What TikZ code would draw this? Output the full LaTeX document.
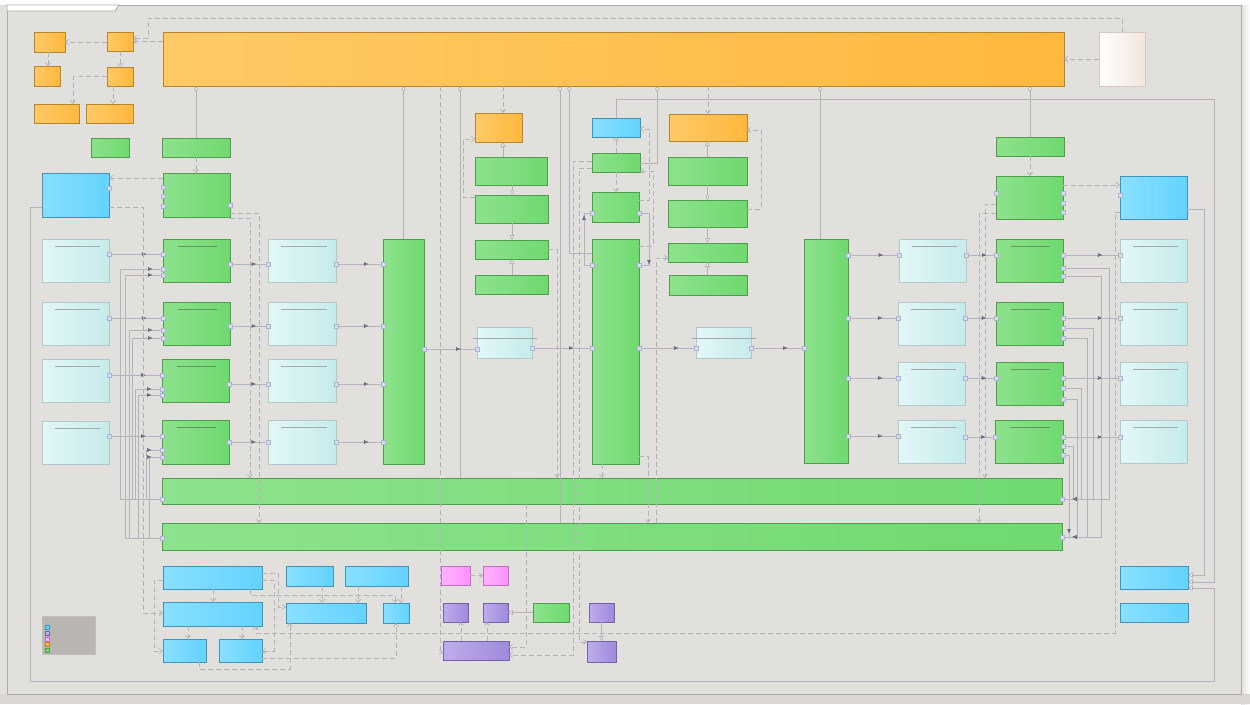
\documentclass[tikz,border=0pt]{standalone}
\usepackage{tikz}
\usetikzlibrary{arrows.meta,decorations.markings}
\definecolor{OuterBG}{HTML}{E2E1DE}
\definecolor{FrameBG}{HTML}{E1E0DD}
\definecolor{FrameLine}{HTML}{AEACA9}
\definecolor{BottomBG}{HTML}{D9D6D3}
\definecolor{OrangeL}{HTML}{FFC966}
\definecolor{OrangeR}{HTML}{FFB83E}
\definecolor{OrangeLine}{HTML}{B5862F}
\definecolor{GreenL}{HTML}{8DE28D}
\definecolor{GreenR}{HTML}{6FD96F}
\definecolor{GreenLine}{HTML}{4E9E4E}
\definecolor{GreenTitle}{HTML}{5E9A5E}
\definecolor{BlueL}{HTML}{8ADFFF}
\definecolor{BlueR}{HTML}{63D3FF}
\definecolor{BlueLine}{HTML}{3F93BC}
\definecolor{CyanL}{HTML}{E3F7F7}
\definecolor{CyanR}{HTML}{C6EBEB}
\definecolor{CyanLine}{HTML}{B3C8C9}
\definecolor{CyanTitle}{HTML}{A3ABAF}
\definecolor{PinkL}{HTML}{FFB4FF}
\definecolor{PinkR}{HTML}{FF90FF}
\definecolor{PinkLine}{HTML}{C26EC2}
\definecolor{PurpleL}{HTML}{BFADEA}
\definecolor{PurpleR}{HTML}{9F89DE}
\definecolor{PurpleLine}{HTML}{7563A8}
\definecolor{WhiteR}{HTML}{F3E5DC}
\definecolor{WhiteLine}{HTML}{D8C8C0}
\definecolor{Wire}{HTML}{B3B3BB}
\definecolor{ArrowDark}{HTML}{6C6C82}
\definecolor{PortFill}{HTML}{D9DCEF}
\definecolor{PortLine}{HTML}{AEB3D2}
\definecolor{LegendBG}{HTML}{B9B5B1}
\tikzset{
    port/.style={draw=PortLine, fill=PortFill, line width=0.4pt, minimum size=4.5pt, inner sep=0pt},
    wh/.style 2 args={minimum width=#1pt, minimum height=#2pt}
}

\begin{document}
\begin{tikzpicture}[x=1pt, y=-1pt,
        % Style chung cho các khối
        box/.style={anchor=north west, inner sep=0pt, outer sep=0pt, line width=0.9pt},
        orangebox/.style={box, draw=OrangeLine, left color=OrangeL, right color=OrangeR},
        greenbox/.style={box, draw=GreenLine, left color=GreenL, right color=GreenR},
        bluebox/.style={box, draw=BlueLine, left color=BlueL, right color=BlueR},
        cyanbox/.style={box, draw=CyanLine, left color=CyanL, right color=CyanR},
        pinkbox/.style={box, draw=PinkLine, left color=PinkL, right color=PinkR},
        purplebox/.style={box, draw=PurpleLine, left color=PurpleL, right color=PurpleR},
        whitebox/.style={box, draw=WhiteLine, left color=white, right color=WhiteR},
        % Khối có gạch tiêu đề
        greenrow/.style={greenbox, path picture={\draw[GreenTitle, line width=0.8pt]
            ([xshift=15pt,yshift=-7pt]path picture bounding box.north west) --
            ([xshift=-13pt,yshift=-7pt]path picture bounding box.north east);}},
        cyanrow/.style={cyanbox, path picture={\draw[CyanTitle, line width=0.8pt]
            ([xshift=13pt,yshift=-7pt]path picture bounding box.north west) --
            ([xshift=-9pt,yshift=-7pt]path picture bounding box.north east);}},
        % Style cho đường nối
        flow/.style={draw=Wire, line width=0.8pt, postaction={decorate},
            decoration={markings,
                mark=at position 0 with {\node[port]{};},
                mark=at position 0.7 with {\arrow[color=ArrowDark]{Latex[length=5pt,width=4pt]}},
                mark=at position 1 with {\node[port]{};}}},
        feed/.style={draw=Wire, line width=0.8pt, postaction={decorate},
            decoration={markings,
                mark=at position 0 with {\node[port]{};},
                mark=at position -10pt with {\arrow[color=ArrowDark]{Latex[length=5pt,width=4pt]}},
                mark=at position 1 with {\node[port]{};}}},
        dep/.style={draw=Wire, line width=0.8pt, dash pattern=on 5pt off 3pt,
            -{Straight Barb[length=3pt,width=5pt]}},
        assoc/.style={draw=Wire, line width=0.8pt, -{Triangle[length=5pt,width=5pt,fill=white]}},
        hasa/.style={draw=Wire, line width=0.8pt, {Diamond[length=6pt,width=4pt,fill=white]}-}
    ]

        \useasboundingbox (0,0) rectangle (1250,704);

        % --- 1. NỀN VÀ KHUNG ---
        \fill[OuterBG] (0,0) rectangle (1250,704);
        \fill[white] (0,0) rectangle (1250,5);
        \shade[left color=OuterBG, right color=white] (1241,5) rectangle (1250,704);
        \fill[BottomBG] (0,694) rectangle (1250,704);
        \draw[FrameLine, fill=FrameBG, line width=1pt] (7,5) rectangle (1241,694);
        \draw[FrameLine, fill=white, line width=0.8pt] (7,5) -- (119,5) -- (115,11) -- (7,11) -- cycle;

        % --- 2. KHỐI CAM ---
        \node[orangebox, wh={31}{20}] (o1) at (34,32) {};
        \node[orangebox, wh={26}{19}] (o2) at (107,32) {};
        \node[orangebox, wh={26}{20}] (o3) at (34,66) {};
        \node[orangebox, wh={26}{19}] (o4) at (107,67) {};
        \node[orangebox, wh={45}{19}] (o5) at (34,104) {};
        \node[orangebox, wh={47}{19}] (o6) at (86,104) {};
        \node[orangebox, wh={901}{54}] (core) at (163,32) {};
        \node[orangebox, wh={47}{29}] (o7) at (475,113) {};
        \node[orangebox, wh={78}{27}] (o8) at (669,114) {};
        \node[whitebox, wh={46}{54}] (ext) at (1099,32) {};

        % --- 3. KHỐI XANH LÁ ---
        \node[greenbox, wh={38}{19}] (g1) at (91,138) {};
        \node[greenbox, wh={68}{19}] (g2) at (162,138) {};
        \node[greenbox, wh={67}{44}] (g3) at (163,173) {};
        \node[greenrow, wh={67}{43}] (lg1) at (163,239) {};
        \node[greenrow, wh={67}{43}] (lg2) at (163,302) {};
        \node[greenrow, wh={67}{43}] (lg3) at (162,359) {};
        \node[greenrow, wh={67}{44}] (lg4) at (162,420) {};
        \node[greenbox, wh={41}{225}] (v1) at (383,239) {};
        \node[greenbox, wh={72}{28}] (a1) at (475,157) {};
        \node[greenbox, wh={73}{28}] (a2) at (475,195) {};
        \node[greenbox, wh={73}{19}] (a3) at (475,240) {};
        \node[greenbox, wh={73}{19}] (a4) at (475,275) {};
        \node[greenbox, wh={48}{19}] (bg1) at (592,153) {};
        \node[greenbox, wh={47}{30}] (bg2) at (592,192) {};
        \node[greenbox, wh={47}{225}] (v2) at (592,239) {};
        \node[greenbox, wh={79}{28}] (c1) at (668,157) {};
        \node[greenbox, wh={79}{27}] (c2) at (668,200) {};
        \node[greenbox, wh={79}{19}] (c3) at (668,243) {};
        \node[greenbox, wh={78}{20}] (c4) at (669,275) {};
        \node[greenbox, wh={44}{224}] (v3) at (804,239) {};
        \node[greenbox, wh={68}{19}] (rgt) at (996,137) {};
        \node[greenbox, wh={67}{43}] (rgm) at (996,176) {};
        \node[greenrow, wh={67}{43}] (rg1) at (996,239) {};
        \node[greenrow, wh={67}{43}] (rg2) at (996,302) {};
        \node[greenrow, wh={67}{43}] (rg3) at (996,362) {};
        \node[greenrow, wh={68}{43}] (rg4) at (995,420) {};
        \node[greenbox, wh={900}{26}] (bar1) at (162,478) {};
        \node[greenbox, wh={900}{27}] (bar2) at (162,523) {};
        \node[greenbox, wh={36}{19}] (sg) at (533,603) {};

        % --- 4. KHỐI XANH DƯƠNG ---
        \node[bluebox, wh={67}{44}] (lb) at (42,173) {};
        \node[bluebox, wh={48}{19}] (bb) at (592,118) {};
        \node[bluebox, wh={67}{43}] (rbl) at (1120,176) {};
        \node[bluebox, wh={99}{23}] (bl1) at (163,566) {};
        \node[bluebox, wh={99}{24}] (bl2) at (163,602) {};
        \node[bluebox, wh={47}{20}] (bl3) at (286,566) {};
        \node[bluebox, wh={63}{20}] (bl4) at (345,566) {};
        \node[bluebox, wh={80}{20}] (bl5) at (286,603) {};
        \node[bluebox, wh={26}{20}] (bl6) at (383,603) {};
        \node[bluebox, wh={43}{23}] (bl7) at (163,639) {};
        \node[bluebox, wh={43}{23}] (bl8) at (219,639) {};
        \node[bluebox, wh={68}{23}] (rb1) at (1120,566) {};
        \node[bluebox, wh={68}{19}] (rb2) at (1120,603) {};

        % --- 5. KHỐI XANH NHẠT ---
        \node[cyanrow, wh={67}{43}] (lc1) at (42,239) {};
        \node[cyanrow, wh={67}{43}] (lc2) at (42,302) {};
        \node[cyanrow, wh={67}{43}] (lc3) at (42,359) {};
        \node[cyanrow, wh={67}{43}] (lc4) at (42,421) {};
        \node[cyanrow, wh={68}{43}] (mc1) at (268,239) {};
        \node[cyanrow, wh={68}{43}] (mc2) at (268,302) {};
        \node[cyanrow, wh={68}{43}] (mc3) at (268,359) {};
        \node[cyanrow, wh={68}{44}] (mc4) at (268,420) {};
        \node[cyanbox, wh={55}{31}] (k1) at (477,327) {};
        \node[cyanbox, wh={55}{31}] (k2) at (696,327) {};
        \node[cyanrow, wh={67}{43}] (rc1) at (899,239) {};
        \node[cyanrow, wh={67}{43}] (rc2) at (898,302) {};
        \node[cyanrow, wh={67}{43}] (rc3) at (898,362) {};
        \node[cyanrow, wh={67}{43}] (rc4) at (898,420) {};
        \node[cyanrow, wh={67}{43}] (fc1) at (1120,239) {};
        \node[cyanrow, wh={67}{43}] (fc2) at (1120,302) {};
        \node[cyanrow, wh={67}{43}] (fc3) at (1120,362) {};
        \node[cyanrow, wh={67}{43}] (fc4) at (1120,420) {};
        \draw[CyanTitle, line width=0.6pt] ([xshift=-4pt,yshift=-11pt]k1.north west) -- ([xshift=5pt,yshift=-11pt]k1.north east);
        \draw[CyanTitle, line width=0.6pt] ([xshift=-4pt,yshift=-11pt]k2.north west) -- ([xshift=5pt,yshift=-11pt]k2.north east);

        % --- 6. KHỐI HỒNG, TÍM, CHÚ THÍCH ---
        \node[pinkbox, wh={29}{19}] (pk1) at (441,566) {};
        \node[pinkbox, wh={25}{19}] (pk2) at (483,566) {};
        \node[purplebox, wh={25}{19}] (pu1) at (443,603) {};
        \node[purplebox, wh={25}{19}] (pu2) at (483,603) {};
        \node[purplebox, wh={25}{19}] (pu3) at (589,603) {};
        \node[purplebox, wh={66}{19}] (pu4) at (443,641) {};
        \node[purplebox, wh={29}{21}] (pu5) at (587,641) {};
        \node[box, draw=LegendBG!90!white, fill=LegendBG, line width=0.5pt, wh={53}{38}] (legend) at (42,616) {};
        \node[box, draw=BlueLine, fill=BlueR, line width=0.5pt, wh={4}{4}] (lk1) at (45,625) {};
        \node[box, draw=PurpleLine, fill=PurpleL, line width=0.5pt, wh={4}{4}] (lk2) at (45,631) {};
        \node[box, draw=PinkLine, fill=PinkL, line width=0.5pt, wh={4}{4}] (lk3) at (45,637) {};
        \node[box, draw=OrangeLine, fill=OrangeR, line width=0.5pt, wh={4}{4}] (lk4) at (45,642) {};
        \node[box, draw=GreenLine, fill=GreenR, line width=0.5pt, wh={4}{4}] (lk5) at (45,648) {};

        % --- 7. ĐƯỜNG NỐI PHÍA TRÊN ---
        \draw[dep] (core.west |- 0,41) -- (o2.east |- 0,41);
        \draw[dep] (ext.north) -- (ext.north |- 0,18) -| (148,38) -- (o2.east |- 0,38);
        \draw[dep] (o2.west |- 0,42) -- (o1.east |- 0,42);
        \draw[dep] (o1.south -| 48,0) -- (o3.north -| 48,0);
        \draw[dep] (o2.south) -- (o2.south |- o4.north);
        \draw[dep] (o4.west) -| ([xshift=-6pt]o5.north east);
        \draw[dep] (o4.south -| 113,0) -- (o6.north -| 113,0);
        \draw[dep] (ext.west) -- (ext.west -| core.east);
        \draw[hasa] (core.south -| g2.north) -- (g2.north);
        \draw[dep] (g2.south) -- (g3.north -| g2.south);
        \draw[dep] (g3.west |- 0,178) -- (lb.east |- 0,178);
        \draw[hasa] (core.south -| v1.north) -- (v1.north);
        \draw[dep] (core.south -| 440,0) |- (pu4.west |- 0,652);
        \draw[hasa] (core.south -| 460,0) -- (bar1.north -| 460,0);
        \draw[dep] (core.south -| 503,0) -- (o7.north -| 503,0);
        \draw[hasa] (core.south -| 560,0) -- (bar2.north -| 560,0);
        \draw[hasa] (core.south -| 569,0) |- (v2.west |- 0,253);
        \draw[hasa] (core.south -| 657,0) |- (bg1.east |- 0,163);
        \draw[dep] (core.south -| o8.north) -- (o8.north);
        \draw[hasa] (core.south -| 820,0) -- (v3.north -| 820,0);
        \draw[hasa] (core.south -| rgt.north) -- (rgt.north);
        \draw[assoc] (bb.north) |- (1214,99) |- (rb1.east |- 0,582);
        \draw[assoc] (rbl.east |- 0,209) -| (1204,575) -- (rb1.east |- 0,575);
        \draw[assoc] (lb.west |- 0,207) -| (30,681) -| (1214,588) -- (rb1.east |- 0,588);

        % --- 8. CỘT GIỮA ---
        \draw[assoc] (a1.north -| 503,0) -- (o7.south -| 503,0);
        \draw[hasa] (a2.north -| 512,0) -- (a1.south -| 512,0);
        \draw[assoc] (a2.south -| 512,0) -- (a3.north -| 512,0);
        \draw[assoc] (a4.north -| 512,0) -- (a3.south -| 512,0);
        \draw[dep] (a2.west |- 0,197) -| (463,139) -- (o7.west |- 0,139);
        \draw[dep] (a3.east) -| (bar1.north -| 557,0);

        \draw[dep] (bg1.north) -- (bb.south);
        \draw[dep] (bg1.south) -- (bg2.north -| bg1.south);
        \draw[dep] (bg2.east |- 0,200) -| (649,129) -- (bb.east |- 0,129);
        \draw[dep] (v2.east |- 0,246) -| (653,171) -- (bg1.east |- 0,171);
        \draw[feed] (bg2.east |- 0,213) -| (649,265) -- (v2.east |- 0,265);
        \draw[feed] (v2.west |- 0,265) -| (584,213) -- (bg2.west |- 0,213);
        \draw[dep] (bg1.west |- 0,161) -| (573,655) -- (pu4.east |- 0,655);
        \draw[dep] (bg1.west |- 0,168) -| (579,642) -- (pu5.west |- 0,642);
        \draw[dep] (v2.south -| 602,0) -- (bar1.north -| 602,0);
        \draw[dep] (v2.east |- 0,456) -| (bar2.north -| 648,0);

        \draw[assoc] (c1.north) -- (o8.south -| c1.north);
        \draw[hasa] (c2.north) -- (c1.south);
        \draw[assoc] (c2.south) -- (c3.north);
        \draw[assoc] (c4.north -| c3.south) -- (c3.south);
        \draw[dep] (c2.east |- 0,209) -| (761,130) -- (o8.east |- 0,130);
        \draw[dep] (bar2.north -| 656,0) |- (c3.west |- 0,258);

        \draw[flow] (v1.east |- 0,349) -- (k1.west |- 0,349);
        \draw[flow] (k1.east |- 0,348) -- (v2.west |- 0,348);
        \draw[flow] (v2.east |- 0,348) -- (k2.west |- 0,348);
        \draw[flow] (k2.east |- 0,348) -- (v3.west |- 0,348);

        % --- 9. CÁC HÀNG BÊN TRÁI ---
        \draw[flow] (lc1.east |- 0,254) -- (lg1.west |- 0,254);
        \draw[flow] (lg1.east |- 0,264) -- (mc1.west |- 0,264);
        \draw[flow] (mc1.east |- 0,264) -- (v1.west |- 0,264);
        \draw[flow] (lc2.east |- 0,318) -- (lg2.west |- 0,318);
        \draw[flow] (lg2.east |- 0,326) -- (mc2.west |- 0,326);
        \draw[flow] (mc2.east |- 0,326) -- (v1.west |- 0,326);
        \draw[flow] (lc3.east |- 0,375) -- (lg3.west |- 0,375);
        \draw[flow] (lg3.east |- 0,384) -- (mc3.west |- 0,384);
        \draw[flow] (mc3.east |- 0,384) -- (v1.west |- 0,384);
        \draw[flow] (lc4.east |- 0,436) -- (lg4.west |- 0,436);
        \draw[flow] (lg4.east |- 0,442) -- (mc4.west |- 0,442);
        \draw[flow] (mc4.east |- 0,442) -- (v1.west |- 0,442);

        \draw[feed] (bar1.west |- 0,499) -| (120,269) -- (lg1.west |- 0,269);
        \draw[feed] (bar2.west |- 0,538) -| (125,275) -- (lg1.west |- 0,275);
        \draw[feed] (bar2.west |- 0,538) -| (129,330) -- (lg2.west |- 0,330);
        \draw[feed] (bar1.west |- 0,499) -| (132,338) -- (lg2.west |- 0,338);
        \draw[feed] (bar1.west |- 0,499) -| (135,389) -- (lg3.west |- 0,389);
        \draw[feed] (bar2.west |- 0,538) -| (138,395) -- (lg3.west |- 0,395);
        \draw[feed] (bar1.west |- 0,499) -| (146,450) -- (lg4.west |- 0,450);
        \draw[feed] (bar2.west |- 0,538) -| (149,457) -- (lg4.west |- 0,457);

        \draw[dep] (lb.east |- 0,207) -| (143,613) -- (bl2.west |- 0,613);
        \draw[dep] (g3.east |- 0,213) -| (bar2.north -| 259,0);
        \draw[dep] (g3.east |- 0,218) -| (bar1.north -| 250,0);
        \node[port] (g3p1) at (g3.west |- 0,187) {};
        \node[port] (g3p2) at (g3.west |- 0,196) {};
        \node[port] (g3p3) at (g3.west |- 0,206) {};
        \node[port] (g3p4) at (g3.east |- 0,205) {};
        \node[port] (lbp1) at (lb.east |- 0,188) {};

        % --- 10. CÁC HÀNG BÊN PHẢI ---
        \draw[flow] (v3.east |- 0,255) -- (rc1.west |- 0,255);
        \draw[flow] (rc1.east |- 0,255) -- (rg1.west |- 0,255);
        \draw[flow] (rg1.east |- 0,255) -- (fc1.west |- 0,255);
        \draw[flow] (v3.east |- 0,318) -- (rc2.west |- 0,318);
        \draw[flow] (rc2.east |- 0,318) -- (rg2.west |- 0,318);
        \draw[flow] (rg2.east |- 0,318) -- (fc2.west |- 0,318);
        \draw[flow] (v3.east |- 0,378) -- (rc3.west |- 0,378);
        \draw[flow] (rc3.east |- 0,378) -- (rg3.west |- 0,378);
        \draw[flow] (rg3.east |- 0,378) -- (fc3.west |- 0,378);
        \draw[flow] (v3.east |- 0,436) -- (rc4.west |- 0,436);
        \draw[flow] (rc4.east |- 0,437) -- (rg4.west |- 0,437);
        \draw[flow] (rg4.east |- 0,437) -- (fc4.west |- 0,437);

        \draw[feed] (rg1.east |- 0,268) -| (1109,499) -- (bar1.east |- 0,499);
        \draw[feed] (rg1.east |- 0,276) -| (1101,537) -- (bar2.east |- 0,537);
        \draw[feed] (rg2.east |- 0,328) -| (1093,499) -- (bar1.east |- 0,499);
        \draw[feed] (rg2.east |- 0,338) -| (1087,537) -- (bar2.east |- 0,537);
        \draw[feed] (rg3.east |- 0,388) -| (1081,499) -- (bar1.east |- 0,499);
        \draw[feed] (rg3.east |- 0,399) -| (1077,537) -- (bar2.east |- 0,537);
        \draw[feed] (rg4.east |- 0,446) -| (1073,499) -- (bar1.east |- 0,499);
        \draw[feed] (rg4.east |- 0,455) -| (1069,537) -- (bar2.east |- 0,537);

        \draw[dep] (rgt.south) -- (rgm.north -| rgt.south);
        \draw[dep] (rgm.east |- 0,185) -- (rbl.west |- 0,185);
        \draw[dep] (rgm.west |- 0,204) -| (bar1.north -| 985,0);
        \draw[dep] (rgm.west |- 0,213) -| (bar2.north -| 979,0);
        \draw[dep] (rbl.west |- 0,212) -| (1115,633) -| (bl2.south -| 256,0);
        \node[port] (rgmp1) at (rgm.west |- 0,193) {};
        \node[port] (rgmp2) at (rgm.east |- 0,193) {};
        \node[port] (rgmp3) at (rgm.east |- 0,203) {};
        \node[port] (rgmp4) at (rgm.east |- 0,212) {};
        \node[port] (rblp1) at (rbl.west |- 0,195) {};

        % --- 11. KHỐI DƯỚI ---
        \draw[dep] (bl1.south -| 213,0) -- (bl2.north -| 213,0);
        \draw[dep] (bl2.south -| 188,0) -- (bl7.north -| 188,0);
        \draw[dep] (bl2.south -| 242,0) -- (bl8.north -| 242,0);
        \draw[dep] (bl1.east |- 0,573) -| (278,607) -- (bl5.west |- 0,607);
        \draw[dep] (bl1.east |- 0,580) -| (274,651) -- (bl8.east |- 0,651);
        \draw[dep] (bl1.west |- 0,580) -| (154,651) -- (bl7.west |- 0,651);
        \draw[dep] (bl1.south -| 250,0) |- (395,595) -- (bl6.north -| 395,0);
        \draw[dep] (bl3.south -| 322,0) -- (bl5.north -| 322,0);
        \draw[dep] (bl4.south -| 358,0) -- (bl5.north -| 358,0);
        \draw[dep] (bl4.south -| 401,0) -- (bl6.north -| 401,0);
        \draw[dep] (bl8.east |- 0,658) -| (bl6.south -| 396,0);
        \draw[dep] (bl7.south -| 199,0) |- (290,669) -- (bl5.south -| 290,0);

        \draw[dep] (pk1.east) -- (pk2.west);
        \draw[assoc] (sg.west) -- (pu2.east);
        \draw[dep] (pu4.north -| 461,0) -- (pu1.south -| 461,0);
        \draw[dep] (pu4.north -| 487,0) -- (pu2.south -| 487,0);
        \draw[assoc] (pu3.south) -- (pu5.north -| pu3.south);
        \draw[dep] (bar1.south -| 526,0) |- (pu4.east |- 0,647);

    \end{tikzpicture}
\end{document}
